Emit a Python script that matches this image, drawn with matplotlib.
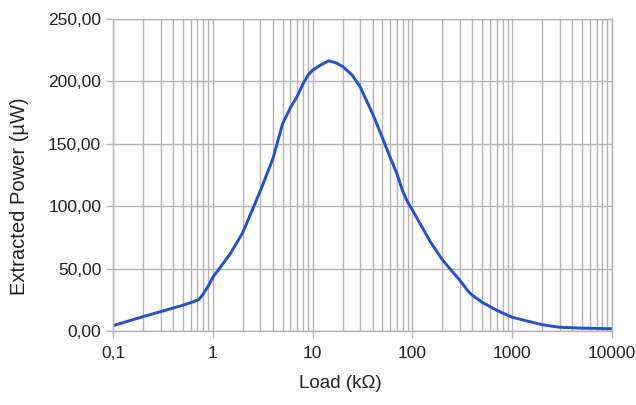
import numpy as np
import matplotlib.pyplot as plt
from matplotlib.ticker import FixedLocator, LogLocator, NullFormatter

plt.rcParams['font.family'] = ['Liberation Sans', 'DejaVu Sans']

# load (kOhm) and extracted power (uW)
load = [0.1, 0.2, 0.3, 0.4, 0.5, 0.6, 0.72, 0.8, 0.9, 1, 1.5, 2, 3, 4, 5, 6, 7, 8, 9, 10,
        12, 14.5, 17, 20, 25, 30, 40, 50, 60, 70, 80, 90, 100, 150, 200, 300, 370, 400,
        500, 700, 1000, 2000, 3000, 5000, 10000]
power = [4.3, 11.5, 15.5, 18.4, 20.6, 22.7, 25, 29.5, 36, 43, 62, 79, 112.5, 138, 166, 179,
         188, 198, 205, 209, 213, 216.5, 215, 212, 205, 195.5, 174, 155, 139, 126, 112, 103,
         97, 72, 57, 40.5, 31, 28.6, 23, 16.6, 11, 5, 3, 2.3, 1.8]

xticks = [0.1, 1, 10, 100, 1000, 10000]
xlabels = ['0,1', '1', '10', '100', '1000', '10000']
yticks = [0, 50, 100, 150, 200, 250]
ylabels = ['0,00', '50,00', '100,00', '150,00', '200,00', '250,00']

fig = plt.figure(figsize=(6.36, 4.05), dpi=100)
ax = fig.add_axes([0.1777, 0.1827, 0.7845, 0.7704])

ax.plot(load, power, color='#1f4fe0', linewidth=2.1, solid_capstyle='round',
        solid_joinstyle='round')

ax.set_xscale('log')
ax.set_xlim(0.1, 10000)
ax.set_ylim(0, 250)
ax.xaxis.set_major_locator(FixedLocator(xticks))
ax.set_xticklabels(xlabels)
ax.xaxis.set_minor_locator(LogLocator(base=10, subs=np.arange(2, 10)))
ax.xaxis.set_minor_formatter(NullFormatter())
ax.set_yticks(yticks)
ax.set_yticklabels(ylabels)

ax.grid(True, which='both', axis='x', color='#b4b4b4', linewidth=1)
ax.grid(True, which='major', axis='y', color='#b4b4b4', linewidth=1)
ax.set_axisbelow(True)
for s in ax.spines.values():
    s.set_color('#b4b4b4')
    s.set_linewidth(1)

ax.tick_params(axis='both', which='major', colors='#b4b4b4', labelcolor='#222222',
               labelsize=12.5, length=5, width=1, direction='out')
ax.tick_params(axis='x', which='minor', length=0)
ax.tick_params(axis='x', pad=6)

fig.text(340 / 636, 1 - 383 / 405, 'Load (kΩ)', fontsize=13.5, color='#222222',
         ha='center', va='center')
fig.text(20 / 636, 1 - 196 / 405, 'Extracted Power (µW)', fontsize=14.5, color='#222222',
         ha='center', va='center', rotation=90)

fig.savefig('out.png', dpi=100)
